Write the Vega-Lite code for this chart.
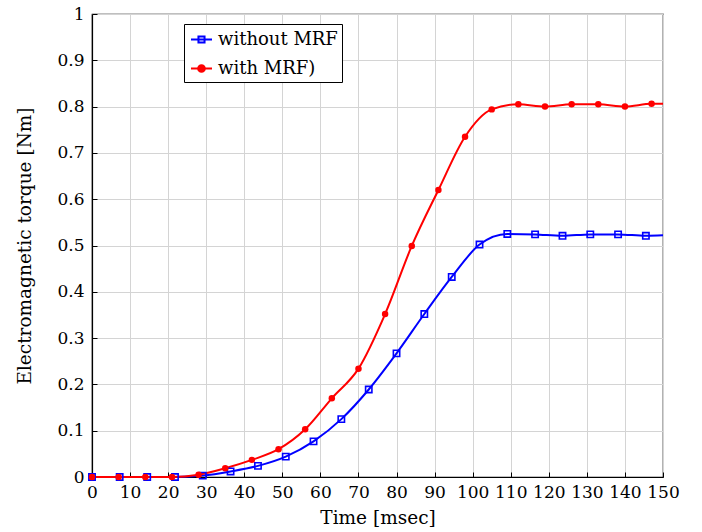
{
  "$schema": "https://vega.github.io/schema/vega-lite/v6.json",
  "autosize": {"type": "none"},
  "padding": {"left": 92, "top": 14, "right": 39, "bottom": 55},
  "width": 571,
  "height": 463,
  "background": "white",
  "config": {
    "view": {"stroke": "black", "strokeWidth": 1.2},
    "font": "DejaVu Serif",
    "axis": {
      "labelFont": "DejaVu Serif",
      "labelFontSize": 17,
      "labelColor": "black",
      "titleFont": "DejaVu Serif",
      "titleFontSize": 18.5,
      "titleFontWeight": "normal",
      "titleColor": "black",
      "domainColor": "black",
      "domainWidth": 1.2,
      "tickColor": "black",
      "tickSize": -5,
      "gridColor": "#d4d4d4",
      "gridWidth": 1,
      "labelOverlap": false,
      "labelFlush": false
    }
  },
  "data": {
    "values": [
      {"t": 0, "v": 0, "s": "without MRF"},
      {"t": 7.27, "v": 0, "s": "without MRF"},
      {"t": 14.5, "v": 0, "s": "without MRF"},
      {"t": 21.8, "v": 0, "s": "without MRF"},
      {"t": 29.1, "v": 0.003, "s": "without MRF"},
      {"t": 36.4, "v": 0.012, "s": "without MRF"},
      {"t": 43.6, "v": 0.024, "s": "without MRF"},
      {"t": 50.9, "v": 0.044, "s": "without MRF"},
      {"t": 58.2, "v": 0.077, "s": "without MRF"},
      {"t": 65.5, "v": 0.125, "s": "without MRF"},
      {"t": 72.7, "v": 0.189, "s": "without MRF"},
      {"t": 80.0, "v": 0.267, "s": "without MRF"},
      {"t": 87.3, "v": 0.352, "s": "without MRF"},
      {"t": 94.5, "v": 0.432, "s": "without MRF"},
      {"t": 101.8, "v": 0.502, "s": "without MRF"},
      {"t": 109.1, "v": 0.525, "s": "without MRF"},
      {"t": 116.4, "v": 0.524, "s": "without MRF"},
      {"t": 123.6, "v": 0.521, "s": "without MRF"},
      {"t": 130.9, "v": 0.524, "s": "without MRF"},
      {"t": 138.2, "v": 0.524, "s": "without MRF"},
      {"t": 145.5, "v": 0.521, "s": "without MRF"},
      {"t": 150, "v": 0.522, "s": "without MRF", "end": true},
      {"t": 0, "v": 0, "s": "with MRF)"},
      {"t": 7, "v": 0, "s": "with MRF)"},
      {"t": 14, "v": 0, "s": "with MRF)"},
      {"t": 21, "v": 0, "s": "with MRF)"},
      {"t": 28, "v": 0.005, "s": "with MRF)"},
      {"t": 35, "v": 0.019, "s": "with MRF)"},
      {"t": 42, "v": 0.037, "s": "with MRF)"},
      {"t": 49, "v": 0.06, "s": "with MRF)"},
      {"t": 56, "v": 0.103, "s": "with MRF)"},
      {"t": 63, "v": 0.17, "s": "with MRF)"},
      {"t": 70, "v": 0.234, "s": "with MRF)"},
      {"t": 77, "v": 0.352, "s": "with MRF)"},
      {"t": 84, "v": 0.499, "s": "with MRF)"},
      {"t": 91, "v": 0.62, "s": "with MRF)"},
      {"t": 98, "v": 0.735, "s": "with MRF)"},
      {"t": 105, "v": 0.794, "s": "with MRF)"},
      {"t": 112, "v": 0.805, "s": "with MRF)"},
      {"t": 119, "v": 0.8, "s": "with MRF)"},
      {"t": 126, "v": 0.805, "s": "with MRF)"},
      {"t": 133, "v": 0.805, "s": "with MRF)"},
      {"t": 140, "v": 0.8, "s": "with MRF)"},
      {"t": 147, "v": 0.806, "s": "with MRF)"},
      {"t": 150, "v": 0.806, "s": "with MRF)", "end": true}
    ]
  },
  "encoding": {
    "x": {
      "field": "t", "type": "quantitative",
      "scale": {"domain": [0, 150], "nice": false, "zero": false},
      "axis": {
        "values": [0, 10, 20, 30, 40, 50, 60, 70, 80, 90, 100, 110, 120, 130, 140, 150],
        "title": "Time [msec]",
        "labelPadding": 12,
        "titlePadding": 8
      }
    },
    "y": {
      "field": "v", "type": "quantitative",
      "scale": {"domain": [0, 1], "nice": false},
      "axis": {
        "values": [0, 0.1, 0.2, 0.3, 0.4, 0.5, 0.6, 0.7, 0.8, 0.9, 1],
        "format": ".1~f",
        "title": "Electromagnetic torque [Nm]",
        "labelPadding": 13,
        "titlePadding": 22
      }
    }
  },
  "layer": [
    {
      "mark": {"type": "line", "strokeWidth": 2, "interpolate": "monotone"},
      "encoding": {
        "color": {
          "field": "s", "type": "nominal",
          "scale": {"domain": ["without MRF", "with MRF)"], "range": ["#0000ff", "#ff0000"]},
          "legend": {
            "orient": "none",
            "legendX": 92,
            "legendY": 10,
            "title": null,
            "strokeColor": "black",
            "fillColor": "white",
            "padding": 4,
            "rowPadding": 8,
            "symbolSize": 441,
            "symbolOffset": 2,
            "symbolStrokeWidth": 2,
            "labelOffset": 5,
            "labelFont": "DejaVu Serif",
            "labelFontSize": 18,
            "labelColor": "black",
            "labelLimit": 400,
            "labelExpr": "datum.value == 'with MRF)' ? '\u00a0\u00a0with MRF)' : datum.label",
            "encode": {
              "symbols": {
                "update": {
                  "shape": {"signal": "datum.value == 'without MRF' ? 'M-1,0H1M-0.29,-0.29H0.29V0.29H-0.29Z' : 'M-1,0H1M-0.32,0A0.32,0.32 0 1,1 0.32,0A0.32,0.32 0 1,1 -0.32,0Z'"},
                  "fill": {"signal": "datum.value == 'without MRF' ? 'transparent' : '#ff0000'"},
                  "stroke": {"signal": "datum.value == 'without MRF' ? '#0000ff' : '#ff0000'"},
                  "strokeWidth": {"value": 2},
                  "opacity": {"value": 1}
                }
              }
            }
          }
        }
      }
    },
    {
      "transform": [{"filter": "datum.s == 'without MRF' && !datum.end"}],
      "mark": {"type": "point", "shape": "square", "filled": false, "color": "#0000ff", "strokeWidth": 1.6, "size": 40, "opacity": 1}
    },
    {
      "transform": [{"filter": "datum.s == 'with MRF)' && !datum.end"}],
      "mark": {"type": "point", "shape": "circle", "filled": true, "color": "#ff0000", "size": 42, "opacity": 1}
    }
  ]
}
